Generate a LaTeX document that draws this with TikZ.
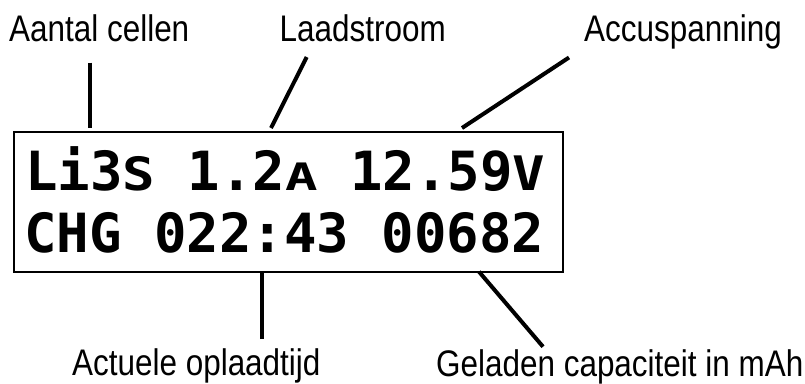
\documentclass[tikz,border=0pt]{standalone}
\usepackage{fontspec}
\usepackage{graphicx}
\setmainfont{Liberation Sans}[FakeStretch=0.85]
\newfontfamily\lcdfont{DejaVu Sans Mono}

% squashed letters of the display
\newcommand\squash[2]{\scalebox{1}[#1]{#2}}

\begin{document}
\begin{tikzpicture}[
    x=1pt, y=-1pt,
    tagtext/.style={font=\fontsize{37}{37}\selectfont, inner sep=0, anchor=base west},
    lcd/.style={draw, line width=2.2pt, minimum width=549.6pt, minimum height=140.6pt, inner sep=0},
    lcdrow/.style={font=\lcdfont\bfseries\fontsize{54}{54}\selectfont, inner sep=0, anchor=base west},
    pointer/.style={line width=4pt},
  ]
  \useasboundingbox (0,0) rectangle (805,383);

  % Display
  \node [lcd] (lcd) at (288.5,202) {};
  \node [lcdrow] (row1) at (25,190) {Li3\squash{.85}{S} 1.2\squash{.7}{A} 12.59\squash{.88}{V}};
  \node [lcdrow] (row2) at (24,252) {CHG 022:43 00682};

  % Labels
  \foreach \nm/\txt/\px/\py in
    {cells/Aantal cellen/9/41.7, current/Laadstroom/279.5/41.7, voltage/Accuspanning/584/41.7,
     time/Actuele oplaadtijd/72/375, capacity/Geladen capaciteit in mAh/436/376}
    \node [tagtext] (\nm) at (\px,\py) {\txt};

  % Pointers
  \coordinate (cells-a) at (90,62.7);     \coordinate (cells-b) at (90,128);
  \coordinate (current-a) at (306.7,57);  \coordinate (current-b) at (271,128);
  \coordinate (voltage-a) at (569,57.5);  \coordinate (voltage-b) at (462,128);
  \coordinate (time-a) at (262,339);      \coordinate (time-b) at (262,272);
  \coordinate (capacity-a) at (543,346.7); \coordinate (capacity-b) at (479,271.7);
  \foreach \nm in {cells, current, voltage, time, capacity}
    \draw [pointer] (\nm-a) -- (\nm-b);
\end{tikzpicture}
\end{document}
